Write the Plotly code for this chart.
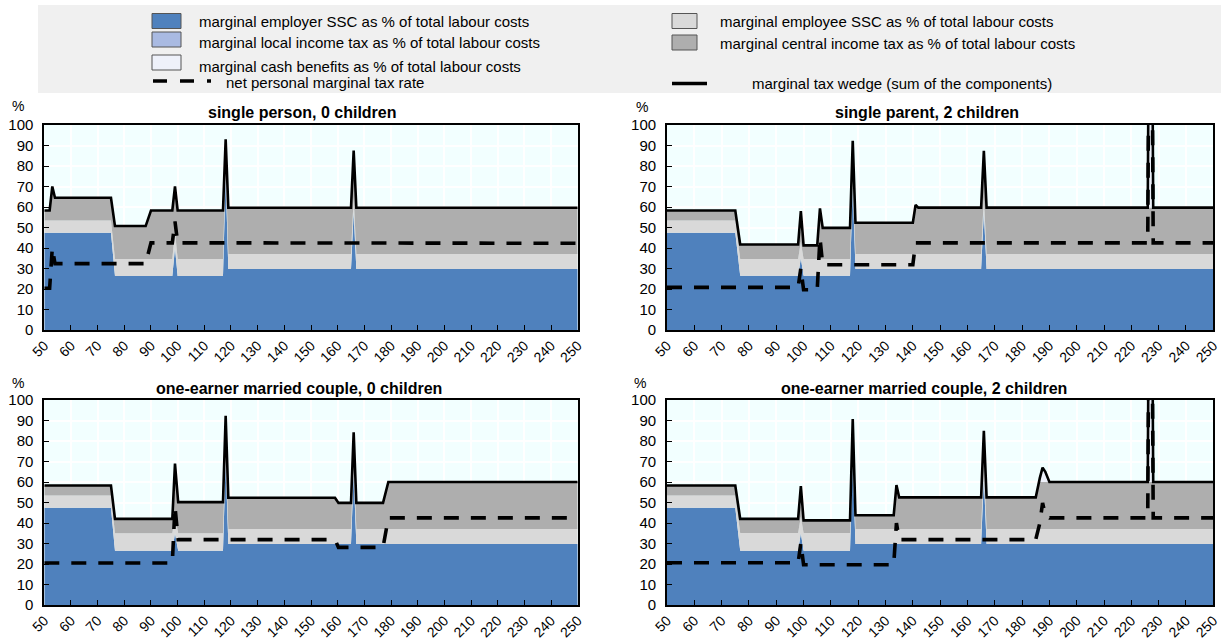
import plotly.graph_objects as go

W, H = 1223, 640

# ---------------- data ----------------
# Panel A: single person, 0 children
xA = [50, 52, 53, 54, 75, 76.5, 88, 90, 98, 99, 100, 117, 118, 119, 165, 166, 167, 250]
empA = [47.4, 47.4, 47.4, 47.4, 47.4, 26.3, 26.3, 26.3, 26.3, 40, 26.3, 26.3, 75, 29.7, 29.7, 57.5, 29.7, 29.7]
eeA = [6, 6, 6, 6, 6, 8.3, 8.3, 8.3, 8.3, 8.3, 8.3, 8.3, 7, 7.4, 7.4, 7.4, 7.4, 7.4]
citA = [4.9, 4.9, 16.6, 11.1, 11.1, 16.1, 16.1, 23.7, 23.7, 21.7, 23.7, 23.7, 11, 22.5, 22.5, 22.6, 22.5, 22.5]
litA = [0] * 18
cbA = [0] * 18
wedgeA = [58.3, 58.3, 70, 64.5, 64.5, 50.7, 50.7, 58.3, 58.3, 70, 58.3, 58.3, 93, 59.6, 59.6, 87.5, 59.6, 59.6]
pmtrA = [20.4, 20.4, 40, 32.4, 32.4, 32.4, 32.4, 42.5, 42.5, 53, 42.5, 42.5, 42.5, 42.3, 42.3, 42.3, 42.3, 42.3]

# Panel B: single parent, 2 children
xB = [50, 75, 76.8, 98, 99, 100, 105, 106, 107, 117, 118, 119, 140, 141, 142, 165, 166, 167, 226, 227, 228, 250]
empB = [47.4, 47.4, 26.5, 26.5, 35, 26.5, 26.5, 26.5, 26.5, 26.5, 70, 29.7, 29.7, 29.7, 29.7, 29.7, 57.4, 29.7, 29.7, 29.7, 29.7, 29.7]
eeB = [6, 6, 8.1, 8.1, 8, 8.1, 8.1, 8.1, 8.1, 8.1, 7, 7.4, 7.4, 7.4, 7.4, 7.4, 7.4, 7.4, 7.4, 7.4, 7.4, 7.4]
citB = [4.9, 4.9, 7.1, 7.1, 7.1, 6.7, 6.7, 24.7, 15.2, 15.2, 15.3, 15.2, 15.2, 23.9, 22.6, 22.6, 22.6, 22.6, 22.6, 22.6, 22.6, 22.6]
litB = [0] * 22
cbB = [0, 0, 0, 0, 7.9, 0, 0, 0, 0, 0, 0, 0, 0, 0, 0, 0, 0, 0, 0, 240.3, 0, 0]
wedgeB = [58.3, 58.3, 41.7, 41.7, 58, 41.3, 41.3, 59.3, 49.8, 49.8, 92.3, 52.3, 52.3, 61, 59.7, 59.7, 87.4, 59.7, 59.7, 300, 59.7, 59.7]
pmtrB = [20.8, 20.8, 20.8, 20.8, 30.2, 19.6, 19.6, 45, 31.8, 31.8, 31.8, 31.8, 31.8, 42.5, 42.5, 42.5, 42.5, 42.5, 42.5, 290, 42.5, 42.5]

# Panel C: one-earner married couple, 0 children
xC = [50, 75, 76.5, 98, 99, 100.2, 117, 118, 119, 159, 160.3, 165, 166, 167, 177, 179, 250]
empC = [47.4, 47.4, 26.5, 26.5, 35, 26.5, 26.5, 70, 29.7, 29.7, 29.7, 29.7, 64.1, 29.7, 29.7, 29.7, 29.7]
eeC = [6, 6, 8.5, 8.5, 8, 8.5, 8.5, 7, 7.4, 7.4, 7.4, 7.4, 7.4, 7.4, 7.4, 7.4, 7.4]
citC = [4.9, 4.9, 7, 7, 26, 15.2, 15.2, 15.3, 15.2, 15.2, 12.7, 12.7, 12.7, 12.7, 12.7, 22.9, 22.9]
litC = [0] * 17
cbC = [0] * 17
wedgeC = [58.3, 58.3, 42, 42, 69, 50.2, 50.2, 92.3, 52.3, 52.3, 49.8, 49.8, 84.2, 49.8, 49.8, 60, 60]
pmtrC = [20.5, 20.5, 20.5, 20.5, 48, 31.9, 31.9, 31.9, 31.9, 31.9, 28.1, 28.1, 28.1, 28.1, 28.1, 42.5, 42.5]

# Panel D: one-earner married couple, 2 children
xD = [50, 75, 76.8, 98, 99, 100, 117, 118, 119, 133, 134, 135, 165, 166, 167, 185, 186.5, 187.5, 188.5, 190, 226, 227, 228, 250]
empD = [47.4, 47.4, 26.5, 26.5, 35, 26.5, 26.5, 70, 29.7, 29.7, 29.7, 29.7, 29.7, 62.2, 29.7, 29.7, 29.7, 29.7, 29.7, 29.7, 29.7, 29.7, 29.7, 29.7]
eeD = [6, 6, 8.6, 8.6, 8, 8.6, 8.6, 7, 7.4, 7.4, 7.4, 7.4, 7.4, 7.4, 7.4, 7.4, 7.4, 7.4, 7.4, 7.4, 7.4, 7.4, 7.4, 7.4]
citD = [4.9, 4.9, 6.9, 6.9, 7, 6.2, 6.2, 13.7, 6.7, 6.7, 21.4, 15.4, 15.4, 15.4, 15.4, 15.4, 22.9, 22.9, 22.9, 22.9, 22.9, 22.9, 22.9, 22.9]
litD = [0] * 24
cbD = [0, 0, 0, 0, 8, 0, 0, 0, 0, 0, 0, 0, 0, 0, 0, 0, 2, 7, 5, 0, 0, 240, 0, 0]
wedgeD = [58.3, 58.3, 42, 42, 58, 41.3, 41.3, 90.7, 43.8, 43.8, 58.5, 52.5, 52.5, 85, 52.5, 52.5, 62, 67, 65, 60, 60, 300, 60, 60]
pmtrD = [20.6, 20.6, 20.6, 20.6, 30.2, 19.6, 19.6, 19.6, 19.6, 19.6, 40, 31.9, 31.9, 31.9, 31.9, 31.9, 40, 49.8, 44, 42.5, 42.5, 290, 42.5, 42.5]

panels = [
    ("single person, 0 children", xA, empA, eeA, citA, litA, cbA, wedgeA, pmtrA),
    ("single parent, 2 children", xB, empB, eeB, citB, litB, cbB, wedgeB, pmtrB),
    ("one-earner married couple, 0 children", xC, empC, eeC, citC, litC, cbC, wedgeC, pmtrC),
    ("one-earner married couple, 2 children", xD, empD, eeD, citD, litD, cbD, wedgeD, pmtrD),
]

xticks = list(range(50, 251, 10))
yticks = list(range(0, 101, 10))

legend_labels = [
    "marginal employer SSC as % of total labour costs",
    "marginal employee SSC as % of total labour costs",
    "marginal local income tax as % of total labour costs",
    "marginal central income tax as % of total labour costs",
    "marginal cash benefits as % of total labour costs",
    "net personal marginal tax rate",
    "marginal tax wedge (sum of the components)",
]

# ---------------- styles ----------------
C_EMP = "#4F81BD"
C_EE = "#D9D9D9"
C_CIT = "#AEAEAE"
C_LIT = "#A9BAE2"
C_CB = "#EEF1FA"
FONT = "Liberation Sans, Arial, sans-serif"


def fx(px):
    return px / W


def fy(py):
    return 1 - py / H


# pixel boxes of plot areas: (left, right, top, bottom)
boxes = [
    (44.3, 577.7, 125.0, 330.0),
    (667.0, 1213.3, 125.0, 330.0),
    (44.3, 577.7, 400.0, 605.0),
    (667.0, 1213.3, 400.0, 605.0),
]
title_pos = [(302, 113), (927, 113), (299, 388), (924, 388)]
pct_pos = [(18, 106), (642, 107), (18, 383), (640, 383)]

fig = go.Figure()
layout = dict(
    width=W, height=H,
    margin=dict(l=0, r=0, t=0, b=0, pad=0, autoexpand=False),
    paper_bgcolor="white",
    plot_bgcolor="#F2FFFF",
    showlegend=False,
    font=dict(family=FONT, size=14, color="black"),
)

annotations = []
shapes = []

for i, (title, x, emp, ee, cit, lit, cb, wedge, pmtr) in enumerate(panels):
    n = "" if i == 0 else str(i + 1)
    xa, ya = "x" + n, "y" + n
    sg = "s%d" % i
    for vals, col in [(emp, C_EMP), (ee, C_EE), (cit, C_CIT), (lit, C_LIT), (cb, C_CB)]:
        fig.add_trace(go.Scatter(x=x, y=vals, mode="lines", stackgroup=sg,
                                 line=dict(width=0, color=col), fillcolor=col,
                                 xaxis=xa, yaxis=ya, hoverinfo="skip"))
    fig.add_trace(go.Scatter(x=x, y=wedge, mode="lines",
                             line=dict(color="black", width=2.6),
                             xaxis=xa, yaxis=ya, hoverinfo="skip"))
    fig.add_trace(go.Scatter(x=x, y=pmtr, mode="lines",
                             line=dict(color="black", width=3.6, dash="15px,12px"),
                             xaxis=xa, yaxis=ya, hoverinfo="skip"))
    l, r, t, b = boxes[i]
    layout["xaxis" + n] = dict(
        domain=[fx(l), fx(r)], anchor=ya, range=[50, 250], automargin=False,
        tickmode="array", tickvals=xticks, ticktext=[str(v) for v in xticks],
        tickangle=-45, ticks="inside", ticklen=5, tickwidth=1.3, tickcolor="black",
        showgrid=True, gridcolor="white", gridwidth=1.5,
        showline=True, linecolor="black", linewidth=1.8, mirror=True,
        zeroline=False, tickfont=dict(size=14, family=FONT), fixedrange=True,
    )
    layout["yaxis" + n] = dict(
        domain=[fy(b), fy(t)], anchor=xa, range=[0, 100], automargin=False,
        tickmode="array", tickvals=yticks, ticktext=[str(v) for v in yticks],
        ticks="inside", ticklen=5, tickwidth=1.3, tickcolor="black",
        showgrid=True, gridcolor="white", gridwidth=1.5,
        showline=True, linecolor="black", linewidth=1.8, mirror=True,
        zeroline=False, tickfont=dict(size=15, family=FONT), fixedrange=True,
        ticklabelstandoff=6,
    )
    tx, ty = title_pos[i]
    annotations.append(dict(x=fx(tx), y=fy(ty), xref="paper", yref="paper",
                            text="<b>%s</b>" % title, showarrow=False,
                            xanchor="center", yanchor="middle",
                            font=dict(size=16, family=FONT)))
    px_, py_ = pct_pos[i]
    annotations.append(dict(x=fx(px_), y=fy(py_), xref="paper", yref="paper",
                            text="%", showarrow=False, xanchor="center", yanchor="middle",
                            font=dict(size=14, family=FONT)))

# ---------------- legend (drawn manually) ----------------
shapes.append(dict(type="rect", xref="paper", yref="paper", layer="below",
                   x0=fx(38), x1=fx(1221), y0=fy(93), y1=fy(5),
                   fillcolor="#F0F0F0", line=dict(width=0)))

sw = [  # (x0, x1, ytop, ybottom, color, label index, text x, text y)
    (152, 181, 13.5, 28.5, C_EMP, 0, 197, 21),
    (152, 181, 32, 47, C_LIT, 2, 197, 42),
    (152, 181, 55, 70, C_CB, 4, 197, 66),
    (672, 697, 13.5, 28.5, C_EE, 1, 718, 21.5),
    (672, 697, 35, 50, C_CIT, 3, 718, 43.5),
]
for x0, x1, y0, y1, col, li, tx, ty in sw:
    shapes.append(dict(type="rect", xref="paper", yref="paper",
                       x0=fx(x0), x1=fx(x1), y0=fy(y1), y1=fy(y0),
                       fillcolor=col, line=dict(color="#555555", width=1)))
    annotations.append(dict(x=fx(tx), y=fy(ty), xref="paper", yref="paper",
                            text=legend_labels[li], showarrow=False,
                            xanchor="left", yanchor="middle",
                            font=dict(size=15, family=FONT)))

# dashed symbol for net personal marginal tax rate
for a, bb in [(153, 167), (180, 194), (207, 211)]:
    shapes.append(dict(type="line", xref="paper", yref="paper",
                       x0=fx(a), x1=fx(bb), y0=fy(81), y1=fy(81),
                       line=dict(color="black", width=3.5)))
annotations.append(dict(x=fx(224), y=fy(82), xref="paper", yref="paper",
                        text=legend_labels[5], showarrow=False,
                        xanchor="left", yanchor="middle", font=dict(size=15, family=FONT)))
# solid symbol for marginal tax wedge
shapes.append(dict(type="line", xref="paper", yref="paper",
                   x0=fx(672), x1=fx(707), y0=fy(83.5), y1=fy(83.5),
                   line=dict(color="black", width=3.5)))
annotations.append(dict(x=fx(750), y=fy(83.5), xref="paper", yref="paper",
                        text=legend_labels[6], showarrow=False,
                        xanchor="left", yanchor="middle", font=dict(size=15, family=FONT)))

layout["annotations"] = annotations
layout["shapes"] = shapes
fig.update_layout(**layout)
fig.write_html(
    "out.html",
    config={"displayModeBar": False},
    post_script="document.body.style.margin='0';document.body.style.padding='0';"
                "document.body.style.overflow='hidden';",
)
